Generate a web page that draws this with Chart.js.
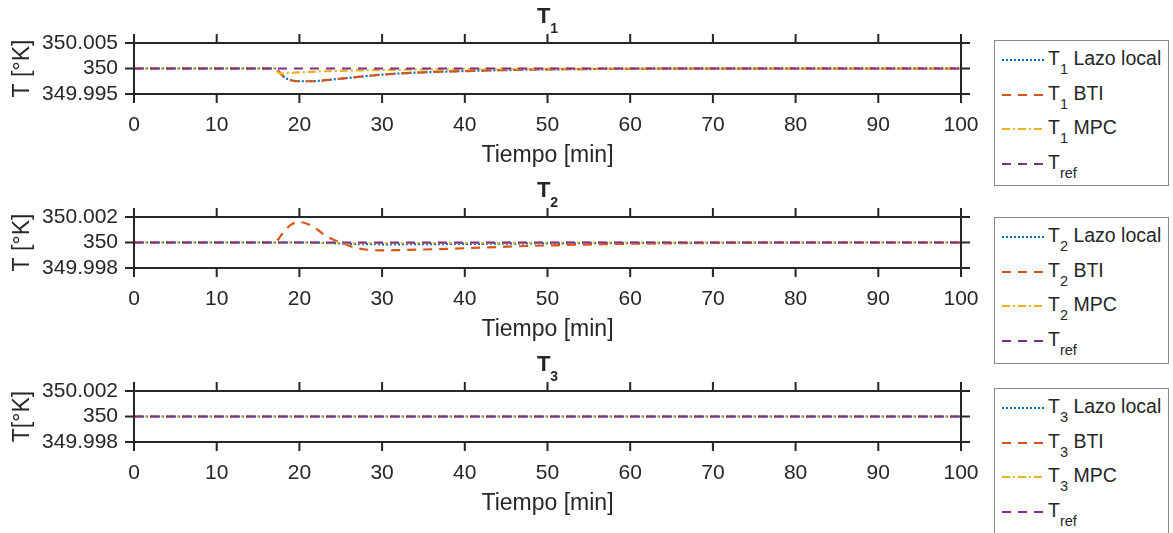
<!DOCTYPE html>
<html>
<head>
<meta charset="utf-8">
<script src="https://cdn.jsdelivr.net/npm/chart.js@4.4.0/dist/chart.umd.min.js"></script>
<style>
  body { margin: 0; background: #fff; font-family: "Liberation Sans", Arial, sans-serif; color: #262626; }
  #fig { position: relative; width: 1173px; height: 533px; overflow: hidden; }
  .panel { position: absolute; left: 0; width: 1173px; height: 174px; }
  .panel canvas { position: absolute; left: 0; top: 0; }
  .titulo { position: absolute; left: 0; width: 1095px; top: 5px; text-align: center;
            font-weight: bold; font-size: 22px; line-height: 22px; }
  .titulo sub { font-size: 14px; vertical-align: -10px; line-height: 0; }
  .leyenda { position: absolute; left: 994px; width: 173px; border: 1px solid #8a8a8a; background: #fff; }
  .fila { position: absolute; left: 0; height: 34px; width: 173px; line-height: 34px;
          font-size: 19.5px; white-space: nowrap; }
  .fila svg { position: absolute; left: 7px; top: 17px; }
  .fila span { position: absolute; left: 53px; top: 0; }
  .fila sub { font-size: 14.5px; vertical-align: -8.5px; line-height: 0; }
</style>
</head>
<body>
<div id="fig"></div>
<script>
// tiempo [min] y temperaturas [K]
const tiempo1 = [0, 17, 17.5, 18, 18.5, 19, 20, 21, 22, 25, 30, 35, 40, 45, 50, 60, 70, 80, 90, 100];
const t1Lazo = [350, 350, 349.9994, 349.9985, 349.9980, 349.9977, 349.9975, 349.9975, 349.99755, 349.9980,
                349.9988, 349.99925, 349.9995, 349.9997, 349.99982, 349.99994, 349.99998, 350, 350, 350];
const t1BTI = [350, 350, 349.99945, 349.99855, 349.9980, 349.9977, 349.9975, 349.9975, 349.99755, 349.9980,
               349.9988, 349.99925, 349.9995, 349.9997, 349.99982, 349.99994, 349.99998, 350, 350, 350];
const t1MPC = [350, 350, 349.9991, 349.9990, 349.9991, 349.99915, 349.99925, 349.99932, 349.9994, 349.99955,
               349.9997, 349.9998, 349.99988, 349.99993, 349.99996, 349.99999, 350, 350, 350, 350];

const tiempo2 = [0, 17, 17.5, 18, 19, 20, 21, 22, 23, 24, 25, 26, 27, 28, 30, 32, 35, 40, 45, 50, 60, 70, 80, 90, 100];
const t2Lazo = [350, 350, 350, 350, 350, 350, 350, 350, 349.99997, 349.99995, 349.99992, 349.9999, 349.99988,
                349.99987, 349.99986, 349.99986, 349.99987, 349.99989, 349.99991, 349.99993, 349.99996,
                349.99998, 349.99999, 350, 350];
const t2BTI = [350, 350, 350.0003, 350.00075, 350.0014, 350.0016, 350.00145, 350.0011, 350.0006, 350.00025,
               350, 349.99975, 349.99955, 349.99945, 349.99938, 349.9994, 349.99945, 349.99955, 349.99967,
               349.99977, 349.9999, 349.99996, 349.99999, 350, 350];
const t2MPC = [350, 350, 350, 350, 350, 349.99999, 349.99998, 349.99997, 349.99996, 349.99995, 349.99995,
               349.99995, 349.99995, 349.99995, 349.99995, 349.99995, 349.99996, 349.99996, 349.99997,
               349.99998, 349.99999, 350, 350, 350, 350];

const tiempo3 = [0, 100];
const t3Lazo = [350, 350];
const t3BTI = [350, 350];
const t3MPC = [350, 350];
const tRef = 350;

const xTicks = [0, 10, 20, 30, 40, 50, 60, 70, 80, 90, 100];
const yTicks1 = [349.995, 350, 350.005];
const yLabels1 = ['349.995', '350', '350.005'];
const yTicks23 = [349.998, 350, 350.002];
const yLabels23 = ['349.998', '350', '350.002'];

const azul = '#0072BD', naranja = '#D95319', amarillo = '#EDB120', morado = '#7E2F8E', ejes = '#262626';
Chart.defaults.font.family = '"Liberation Sans", Arial, sans-serif';
Chart.defaults.color = ejes;

// marco y marcas hacia fuera, como en la figura original
const marcoEjes = {
  id: 'marcoEjes',
  afterDatasetsDraw(chart) {
    const { ctx, chartArea: a, scales: { x, y } } = chart;
    ctx.save();
    ctx.strokeStyle = ejes;
    ctx.lineWidth = 2;
    ctx.strokeRect(a.left, a.top, a.right - a.left, a.bottom - a.top);
    ctx.beginPath();
    x.ticks.forEach(t => {
      const px = x.getPixelForValue(t.value);
      ctx.moveTo(px, a.top); ctx.lineTo(px, a.top - 9);
      ctx.moveTo(px, a.bottom); ctx.lineTo(px, a.bottom + 9);
    });
    y.ticks.forEach(t => {
      const py = y.getPixelForValue(t.value);
      ctx.moveTo(a.left, py); ctx.lineTo(a.left - 9, py);
      ctx.moveTo(a.right, py); ctx.lineTo(a.right + 9, py);
    });
    ctx.stroke();
    ctx.restore();
  }
};

const estilos = [
  { color: azul, dash: [2, 2], svgDash: '2 2' },
  { color: naranja, dash: [9, 7], svgDash: '9 7' },
  { color: amarillo, dash: [8, 3, 2, 3], svgDash: '8 3 2 3' },
  { color: morado, dash: [9, 7], svgDash: '9 7' }
];

function serie(tiempo, valores) {
  return tiempo.map((t, i) => ({ x: t, y: valores[i] }));
}

function crearPanel(n, top, tiempo, lazo, bti, mpc, yTicks, yLabels, yTitulo, leyTop, leyAlto) {
  const fig = document.getElementById('fig');
  const panel = document.createElement('div');
  panel.className = 'panel';
  panel.style.top = top + 'px';
  const canvas = document.createElement('canvas');
  canvas.width = 1173; canvas.height = 174;
  panel.appendChild(canvas);

  const titulo = document.createElement('div');
  titulo.className = 'titulo';
  titulo.innerHTML = 'T<sub>' + n + '</sub>';
  panel.appendChild(titulo);

  const nombres = ['T<sub>' + n + '</sub> Lazo local', 'T<sub>' + n + '</sub> BTI',
                   'T<sub>' + n + '</sub> MPC', 'T<sub>ref</sub>'];
  const ley = document.createElement('div');
  ley.className = 'leyenda';
  ley.style.top = leyTop + 'px';
  ley.style.height = leyAlto + 'px';
  nombres.forEach((txt, i) => {
    const fila = document.createElement('div');
    fila.className = 'fila';
    fila.style.top = (34.7 * i) + 'px';
    fila.innerHTML = '<svg width="42" height="4"><line x1="0" y1="2" x2="42" y2="2" stroke="' +
      estilos[i].color + '" stroke-width="2.2" stroke-dasharray="' + estilos[i].svgDash + '"/></svg>' +
      '<span>' + txt + '</span>';
    ley.appendChild(fila);
  });
  panel.appendChild(ley);
  fig.appendChild(panel);

  const ref = tiempo.map(() => tRef);
  const datos = [lazo, bti, mpc, ref];
  new Chart(canvas, {
    type: 'line',
    data: {
      datasets: datos.map((d, i) => ({
        data: serie(tiempo, d),
        borderColor: estilos[i].color,
        borderDash: estilos[i].dash,
        borderWidth: 2.2,
        pointRadius: 0,
        fill: false,
        cubicInterpolationMode: 'monotone',
        order: 4 - i
      }))
    },
    options: {
      responsive: false,
      animation: false,
      devicePixelRatio: 1,
      layout: { padding: { top: 43, left: 0, right: 212, bottom: 0 } },
      plugins: { legend: { display: false }, title: { display: false }, tooltip: { enabled: false } },
      scales: {
        x: {
          type: 'linear', min: 0, max: 100,
          afterBuildTicks: s => { s.ticks = xTicks.map(v => ({ value: v })); },
          afterFit: s => { s.height = 80; },
          grid: { display: false, drawTicks: false },
          border: { display: false },
          ticks: { font: { size: 21 }, padding: 19, maxRotation: 0, autoSkip: false },
          title: { display: true, text: 'Tiempo [min]', font: { size: 23 }, padding: { top: 0, bottom: 5 } }
        },
        y: {
          type: 'linear', min: yTicks[0], max: yTicks[2],
          afterBuildTicks: s => { s.ticks = yTicks.map(v => ({ value: v })); },
          afterFit: s => { s.width = 134; },
          grid: { display: false, drawTicks: false },
          border: { display: false },
          ticks: { font: { size: 21 }, padding: 16, autoSkip: false, callback: (v, i) => yLabels[i] },
          title: { display: true, text: yTitulo, font: { size: 23 }, padding: { top: 8.5, bottom: 0 } }
        }
      }
    },
    plugins: [marcoEjes]
  });
}

crearPanel(1, 0, tiempo1, t1Lazo, t1BTI, t1MPC, yTicks1, yLabels1, 'T [°K]', 40, 144);
crearPanel(2, 174, tiempo2, t2Lazo, t2BTI, t2MPC, yTicks23, yLabels23, 'T [°K]', 43, 145);
crearPanel(3, 348, tiempo3, t3Lazo, t3BTI, t3MPC, yTicks23, yLabels23, 'T[°K]', 40, 144);
</script>
</body>
</html>
